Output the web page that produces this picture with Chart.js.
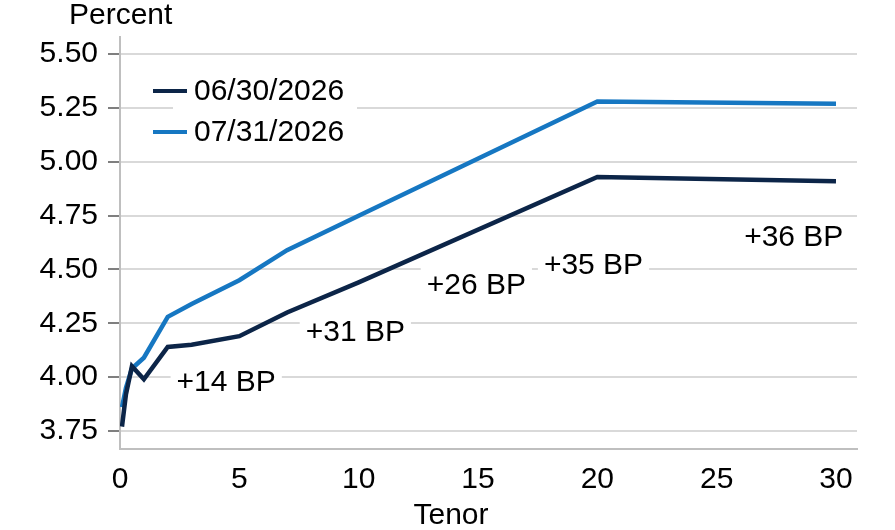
<!DOCTYPE html>
<html>
<head>
<meta charset="utf-8">
<script src="https://cdn.jsdelivr.net/npm/chart.js@4.4.0/dist/chart.umd.min.js"></script>
<style>
  html, body { margin: 0; padding: 0; background: #fff; }
  #wrap { width: 895px; height: 530px; }
</style>
</head>
<body>
<div id="wrap"><canvas id="myChart"></canvas></div>
<script>
// tenors in years
const tenors = [0.083, 0.25, 0.5, 1, 2, 3, 5, 7, 10, 20, 30];
const june = [3.77, 3.92, 4.05, 3.99, 4.14, 4.15, 4.19, 4.30, 4.44, 4.93, 4.91];
const july = [3.86, 3.95, 4.04, 4.09, 4.28, 4.34, 4.45, 4.59, 4.75, 5.28, 5.27];
const seriesNames = ['06/30/2026', '07/31/2026'];

const yTicks = [3.75, 4.00, 4.25, 4.50, 4.75, 5.00, 5.25, 5.50];
const xTicks = [0, 5, 10, 15, 20, 25, 30];

const bpTexts = ['+14 BP', '+31 BP', '+26 BP', '+35 BP', '+36 BP'];
const bpTenors = [4.45, 9.86, 14.93, 19.84, 28.23];
const bpYields = [3.978, 4.21, 4.43, 4.52, 4.65];

const FONT = '"Liberation Sans", Arial, sans-serif';
const colors = ['#0c2548', '#1677c2'];

const ctx = document.getElementById('myChart');

const toPoints = (vals) => vals.map((v, i) => ({ x: tenors[i], y: v }));

// text boxes, legend and axis titles drawn on the canvas
const extras = {
    id: 'extras',
    beforeDatasetsDraw(chart) {
        const c = chart.ctx;
        const xs = chart.scales.x;
        const ys = chart.scales.y;
        c.save();
        c.font = '30px ' + FONT;
        c.textBaseline = 'middle';

        // BP labels with white backing
        bpTexts.forEach((t, i) => {
            const px = xs.getPixelForValue(bpTenors[i]);
            const py = ys.getPixelForValue(bpYields[i]);
            const w = c.measureText(t).width;
            c.fillStyle = '#fff';
            c.fillRect(px - w / 2 - 6, py - 18, w + 12, 36);
            c.fillStyle = '#000';
            c.textAlign = 'center';
            c.fillText(t, px, py + 1);
        });

        // legend
        c.fillStyle = '#fff';
        c.fillRect(173, 72, 184, 78);
        c.textAlign = 'left';
        chart.data.datasets.forEach((ds, i) => {
            const y = 91 + i * 41;
            c.strokeStyle = ds.borderColor;
            c.lineWidth = 4;
            c.beginPath();
            c.moveTo(153, y);
            c.lineTo(187, y);
            c.stroke();
            c.fillStyle = '#000';
            c.fillText(ds.label, 194, y + 1);
        });
        c.restore();
    },
    afterDraw(chart) {
        const c = chart.ctx;
        c.save();
        c.font = '30px ' + FONT;
        c.fillStyle = '#000';
        c.textBaseline = 'middle';
        c.textAlign = 'left';
        c.fillText('Percent', 69, 16);
        c.textAlign = 'center';
        c.fillText('Tenor', 451, 516);
        c.restore();
    }
};

new Chart(ctx, {
    type: 'line',
    data: {
        datasets: [
            { label: seriesNames[0], data: toPoints(june), borderColor: colors[0], backgroundColor: colors[0] },
            { label: seriesNames[1], data: toPoints(july), borderColor: colors[1], backgroundColor: colors[1] }
        ]
    },
    options: {
        responsive: true,
        maintainAspectRatio: false,
        animation: false,
        layout: { padding: { top: 37, right: 38, left: 0, bottom: 0 } },
        elements: {
            line: { borderWidth: 4.5, tension: 0, borderJoinStyle: 'miter' },
            point: { radius: 0, hoverRadius: 0 }
        },
        plugins: {
            legend: { display: false },
            tooltip: { enabled: false }
        },
        scales: {
            x: {
                type: 'linear',
                min: 0,
                max: 30.88,
                afterBuildTicks: (s) => { s.ticks = xTicks.map(v => ({ value: v })); },
                afterFit: (s) => { s.height = 81; },
                grid: { display: false },
                border: { display: true, color: '#bfbfbf', width: 2 },
                ticks: {
                    color: '#000',
                    padding: 5,
                    font: { family: FONT, size: 30 }
                }
            },
            y: {
                min: 3.666,
                max: 5.58,
                afterBuildTicks: (s) => { s.ticks = yTicks.map(v => ({ value: v })); },
                afterFit: (s) => { s.width = 120; },
                grid: { color: '#d9d9d9', lineWidth: 2, tickLength: 12, tickColor: '#7f7f7f', drawTicks: true },
                border: { display: true, color: '#bfbfbf', width: 2 },
                ticks: {
                    color: '#000',
                    padding: 10,
                    font: { family: FONT, size: 30 },
                    callback: (v) => Number(v).toFixed(2)
                }
            }
        }
    },
    plugins: [extras]
});
</script>
</body>
</html>
